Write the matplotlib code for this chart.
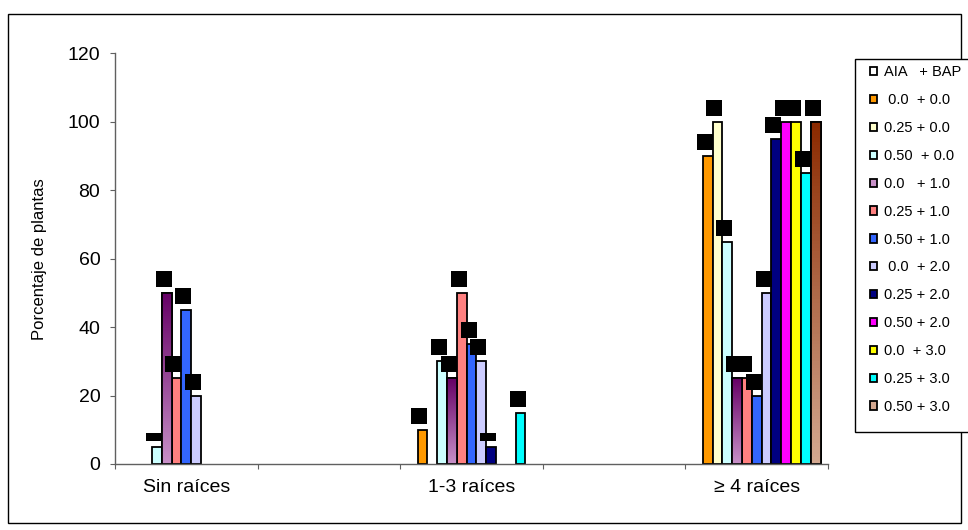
import numpy as np
import matplotlib
matplotlib.use('Agg')
from matplotlib import pyplot as plt
from matplotlib.path import Path
from matplotlib.patches import Rectangle
from matplotlib.transforms import offset_copy
from matplotlib.colors import LinearSegmentedColormap

plt.rcParams['font.family'] = ['Liberation Sans', 'DejaVu Sans']

# categorias (5 posiciones, solo 3 con nombre)
categorias = ['Sin raíces', '', '1-3 raíces', '', '≥ 4 raíces']

tratamientos = ['AIA   + BAP', ' 0.0  + 0.0', '0.25 + 0.0', '0.50  + 0.0',
                '0.0   + 1.0', '0.25 + 1.0', '0.50 + 1.0', ' 0.0  + 2.0',
                '0.25 + 2.0', '0.50 + 2.0', '0.0  + 3.0', '0.25 + 3.0',
                '0.50 + 3.0']

# porcentaje de plantas por tratamiento: [Sin raices, -, 1-3, -, >=4]
valores = [
    [0, 0, 0, 0, 0],
    [0, 0, 10, 0, 90],
    [0, 0, 0, 0, 100],
    [5, 0, 30, 0, 65],
    [50, 0, 25, 0, 25],
    [25, 0, 50, 0, 25],
    [45, 0, 35, 0, 20],
    [20, 0, 30, 0, 50],
    [0, 0, 5, 0, 95],
    [0, 0, 0, 0, 100],
    [0, 0, 0, 0, 100],
    [0, 0, 15, 0, 85],
    [0, 0, 0, 0, 100],
]

colores = ['white', '#FF9900', '#FFFFCC', '#CCFFFF', '#9A4A9A', '#FF8080',
           '#3366FF', '#CCCCFF', '#000080', '#FF00FF', '#FFFF00', '#00FFFF',
           '#B0603A']
degradados = {4: ('#660066', '#C890C8'), 12: ('#8B2A00', '#D4A890')}

fig = plt.figure(figsize=(9.68, 5.30), dpi=100)
fig.patches.append(Rectangle((8 / 968, 1 - 523 / 530), 953 / 968, 509 / 530,
                             transform=fig.transFigure, fill=False,
                             edgecolor='black', linewidth=1.0))
ax = fig.add_axes([115 / 968, 1 - 464 / 530, 713 / 968, 410.7 / 530])

n = len(tratamientos)
hueco = 0.105
ancho = (1 - hueco) / n
x = np.arange(len(categorias))

handles = []
for i in range(n):
    pos = x + hueco / 2 + ancho * (i + 0.5)
    vals = np.array(valores[i])
    barras = ax.bar(pos, vals, width=ancho, color=colores[i],
                    edgecolor='black', linewidth=1.3, zorder=2)
    cara = degradados[i][1] if i in degradados else colores[i]
    handles.append(Rectangle((0, 0), 1, 1, facecolor=cara, edgecolor='black',
                             linewidth=1.3))
    for b in barras:
        if b.get_height() <= 0:
            b.set_visible(False)
    if i in degradados:
        cmap = LinearSegmentedColormap.from_list('g', degradados[i])
        for b in barras:
            if b.get_height() <= 0:
                continue
            im = ax.imshow(np.linspace(0, 1, 100).reshape(-1, 1), cmap=cmap,
                           aspect='auto', origin='upper', zorder=2.1,
                           extent=[b.get_x(), b.get_x() + b.get_width(),
                                   0, b.get_height()])
            im.set_clip_path(b)
            ax.add_patch(Rectangle((b.get_x(), 0), b.get_width(), b.get_height(),
                                   fill=False, edgecolor='black', linewidth=1.3,
                                   zorder=2.2))
    # cuadros negros sobre cada barra
    for xp, v in zip(pos, vals):
        if v <= 0:
            continue
        h = 8 if v <= 5 else 17
        caja = Path([(-8, -h / 2), (8, -h / 2), (8, h / 2), (-8, h / 2), (-8, -h / 2)])
        tr = offset_copy(ax.transData, fig=fig, x=-3, y=5.5 + h / 2, units='dots')
        ax.plot([xp], [v], marker=caja, markersize=16 * 72 / 100, color='black',
                markeredgewidth=0, linestyle='none', transform=tr, zorder=3,
                clip_on=False)

ax.set_xlim(0, len(categorias))
ax.set_ylim(0, 120)
ax.set_yticks(np.arange(0, 121, 20))
ax.set_xticks(np.arange(0, len(categorias) + 1))
ax.set_xticklabels([])
ax.set_xticks(x + 0.5, minor=True)
ax.set_xticklabels(categorias, minor=True)
ax.tick_params(axis='x', which='minor', length=0, pad=11, labelsize=14)
ax.tick_params(axis='x', which='major', length=3.6, color='#606060')
ax.tick_params(axis='y', length=3.6, color='#606060', labelsize=14, pad=7)
for s in ['top', 'right']:
    ax.spines[s].set_visible(False)
for s in ['left', 'bottom']:
    ax.spines[s].set_color('#606060')
    ax.spines[s].set_linewidth(1.0)
ax.set_ylabel('Porcentaje de plantas', fontsize=12)
ax.yaxis.set_label_coords(-0.095, 0.5)

# marco de la leyenda (se sale por la derecha como en el original)
fig.patches.append(Rectangle((855 / 968, 1 - 432 / 530), 130 / 968, 373 / 530,
                             transform=fig.transFigure, facecolor='white',
                             edgecolor='black', linewidth=1.0, zorder=5))
leg = fig.legend(handles, tratamientos, loc='upper left',
                 bbox_to_anchor=(870 / 968, 1 - 65.5 / 530), fontsize=10.5,
                 frameon=False, handlelength=0.5, handleheight=0.5,
                 handletextpad=0.45, labelspacing=0.95, borderpad=0,
                 borderaxespad=0)
leg.set_zorder(6)

fig.savefig('out.png', dpi=100)
